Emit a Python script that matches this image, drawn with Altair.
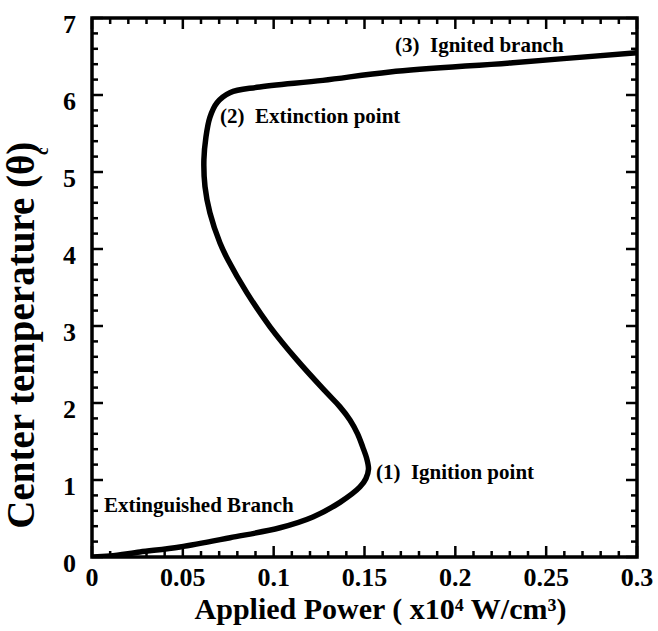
import altair as alt
import pandas as pd

# ---- curve data ----
power = [0.0, 0.0099, 0.0264, 0.0484, 0.0760, 0.1035, 0.1216, 0.1365, 0.1475, 0.1508,
         0.1522, 0.1512, 0.1490, 0.1462, 0.1420, 0.1365, 0.1293, 0.1128, 0.0980, 0.0853,
         0.0748, 0.0704, 0.0649, 0.0622, 0.0616, 0.0627, 0.0649, 0.0688, 0.0759, 0.0908,
         0.1271, 0.1640, 0.2317, 0.3000]
theta = [0.0, 0.013, 0.065, 0.13, 0.25, 0.38, 0.52, 0.71, 0.91, 1.02,
         1.14, 1.28, 1.43, 1.60, 1.78, 1.95, 2.13, 2.56, 2.99, 3.43,
         3.86, 4.08, 4.47, 4.81, 5.16, 5.45, 5.71, 5.90, 6.03, 6.10,
         6.19, 6.30, 6.42, 6.55]

# ---- annotations ----
ann_text = ["(3)\u00a0\u00a0Ignited branch", "(2)\u00a0\u00a0Extinction point",
            "(1)\u00a0\u00a0Ignition point", "Extinguished Branch"]
ann_x = [0.1668, 0.0705, 0.1563, 0.0066]
ann_y = [6.56, 5.64, 1.01, 0.585]

# ---- axis ticks and labels ----
x_major = [0, 0.05, 0.1, 0.15, 0.2, 0.25, 0.3]
x_labels = ["0", "0.05", "0.1", "0.15", "0.2", "0.25", "0.3"]
x_minor = [round(i * 0.01, 2) for i in range(1, 30) if i % 5 != 0]
y_major = [0, 1, 2, 3, 4, 5, 6, 7]
y_labels = ["0", "1", "2", "3", "4", "5", "6", "7"]
y_minor = [round(i * 0.2, 1) for i in range(1, 35) if i % 5 != 0]

x_title = "Applied Power ( x10\u2074 W/cm\u00b3)"
y_title_main = "Center temperature (\u03b8"
y_title_sub = "c"
y_title_close = ")"

W, H = 545, 539
PL, PT = 92, 18
FONT = "Liberation Serif"

xs = alt.Scale(domain=[0, 0.3], nice=False, zero=False)
ys = alt.Scale(domain=[0, 7], nice=False, zero=False)

curve = pd.DataFrame({"power": power, "theta": theta, "order": list(range(len(power)))})
ann = pd.DataFrame({"t": ann_text, "x": ann_x, "y": ann_y})

line = alt.Chart(curve).mark_line(
    color="black", strokeWidth=5.5, interpolate="catmull-rom", clip=True
).encode(
    x=alt.X("power:Q", scale=xs, axis=None),
    y=alt.Y("theta:Q", scale=ys, axis=None),
    order="order:Q",
)

labels = alt.Chart(ann).mark_text(
    font=FONT, fontSize=21, fontWeight="bold", color="black", align="left",
    baseline="alphabetic"
).encode(
    x=alt.X("x:Q", scale=xs, axis=None),
    y=alt.Y("y:Q", scale=ys, axis=None),
    text="t:N",
)

xl = alt.Chart(pd.DataFrame({"v": x_major, "t": x_labels})).mark_text(
    font=FONT, fontSize=26, fontWeight="bold", color="black", align="center",
    baseline="alphabetic"
).encode(x=alt.X("v:Q", scale=xs, axis=None), y=alt.value(H + 29), text="t:N")

yl = alt.Chart(pd.DataFrame({"v": y_major, "t": y_labels})).mark_text(
    font=FONT, fontSize=26, fontWeight="bold", color="black", align="right",
    baseline="alphabetic", dy=15
).encode(y=alt.Y("v:Q", scale=ys, axis=None), x=alt.value(-16), text="t:N")


def rules_x(vals, length, top):
    df = pd.DataFrame({"v": vals})
    y0 = 0 if top else H
    y1 = length if top else H - length
    return alt.Chart(df).mark_rule(color="black", strokeWidth=2.5).encode(
        x=alt.X("v:Q", scale=xs, axis=None), y=alt.value(y0), y2=alt.value(y1))


def rules_y(vals, length, right):
    df = pd.DataFrame({"v": vals})
    x0 = W if right else 0
    x1 = W - length if right else length
    return alt.Chart(df).mark_rule(color="black", strokeWidth=2.5).encode(
        y=alt.Y("v:Q", scale=ys, axis=None), x=alt.value(x0), x2=alt.value(x1))


tick_layers = [
    rules_x(x_major, 11, False), rules_x(x_minor, 6, False),
    rules_x(x_major, 11, True), rules_x(x_minor, 6, True),
    rules_y(y_major, 11, False), rules_y(y_minor, 6, False),
    rules_y(y_major, 11, True), rules_y(y_minor, 6, True),
]

one = pd.DataFrame({"a": [0]})


def ptext(txt, xpix, ypix, size, align, angle=0):
    return alt.Chart(one).mark_text(
        text=txt, font=FONT, fontSize=size, fontWeight="bold", color="black",
        angle=angle, align=align, baseline="alphabetic"
    ).encode(x=alt.value(xpix), y=alt.value(ypix))


# x title
xt = ptext(x_title, 380.5 - PL, 619 - PT, 30, "center")

# y title in pieces (subscript c)
S = 39
w_main = 9.607 * S
paren_w = 0.333 * S
center_page = 335.5
top_page = center_page - (w_main + paren_w) / 2
base_x = 34 - PL
ytitle = [
    ptext(y_title_close, base_x, top_page - PT, S, "right", 270),
    ptext(y_title_main, base_x, top_page + paren_w - PT, S, "right", 270),
    ptext(y_title_sub, 48 - PL, top_page + paren_w / 2 + 3 - PT, 17, "center", 270),
]

chart = alt.layer(line, labels, *tick_layers, xl, yl, xt, *ytitle).properties(
    width=W, height=H,
    autosize=alt.AutoSizeParams(type="none"),
    padding={"left": PL, "top": PT, "right": 658 - PL - W, "bottom": 631 - PT - H},
    background="white",
).configure_view(stroke="black", strokeWidth=3.5)

chart.save("out.html", embed_options={"renderer": "svg", "actions": False})
